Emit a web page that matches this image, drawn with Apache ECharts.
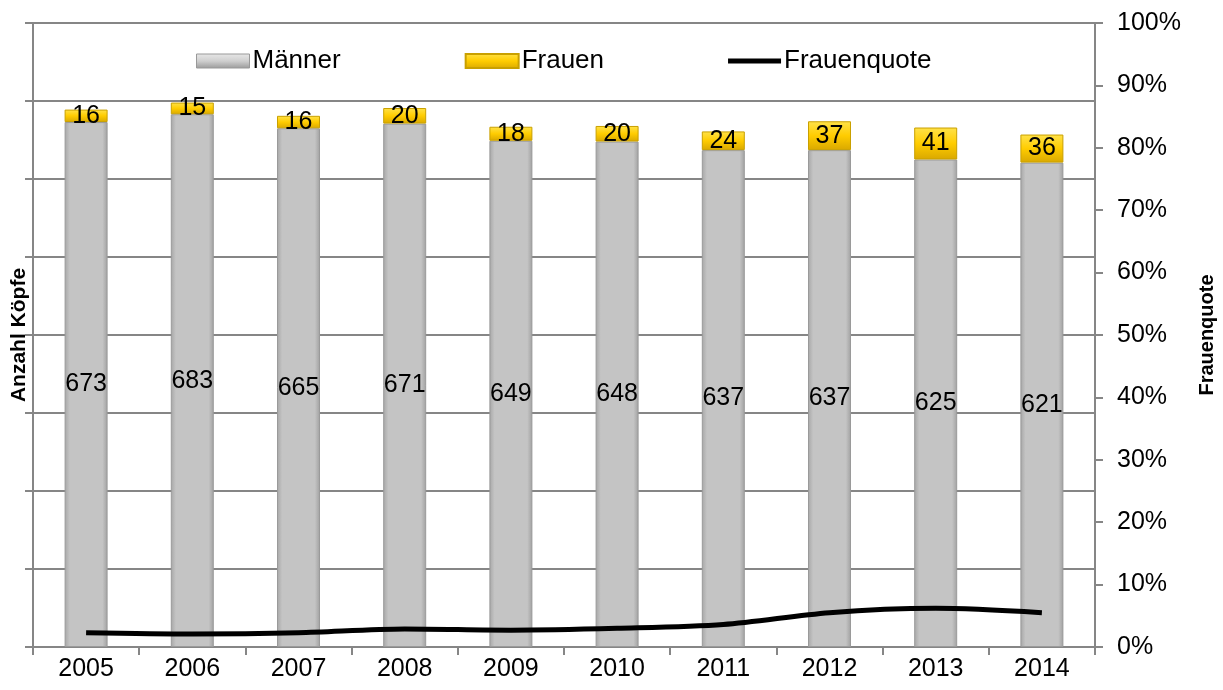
<!DOCTYPE html>
<html lang="de">
<head>
    <meta charset="UTF-8">
    <title>Frauenquote</title>
    <script src="https://cdn.jsdelivr.net/npm/echarts@6/dist/echarts.min.js"></script>
</head>
<body style="margin:0">
<div id="main" style="width:1223px;height:690px"></div>
<script type="text/javascript">
    var years = ['2005', '2006', '2007', '2008', '2009', '2010', '2011', '2012', '2013', '2014'];
    var maenner = [673, 683, 665, 671, 649, 648, 637, 637, 625, 621];
    var frauen = [16, 15, 16, 20, 18, 20, 24, 37, 41, 36];
    var quote = [2.3, 2.1, 2.3, 2.9, 2.7, 3.0, 3.6, 5.5, 6.2, 5.5];

    var font = 'Liberation Sans, Arial, sans-serif';
    var gridCol = '#868686';

    var grauFill = new echarts.graphic.LinearGradient(0, 0, 1, 0, [
        {offset: 0, color: '#a6a6a6'},
        {offset: 0.12, color: '#c4c4c4'},
        {offset: 0.88, color: '#c4c4c4'},
        {offset: 1, color: '#a0a0a0'}
    ]);
    var goldFill = new echarts.graphic.LinearGradient(0, 0, 0, 1, [
        {offset: 0, color: '#ffe24a'},
        {offset: 0.5, color: '#ffcc00'},
        {offset: 1, color: '#d9a800'}
    ]);
    var grauLegend = new echarts.graphic.LinearGradient(0, 0, 0, 1, [
        {offset: 0, color: '#e8e8e8'},
        {offset: 0.5, color: '#cfcfcf'},
        {offset: 1, color: '#9a9a9a'}
    ]);

    var myChart = echarts.init(document.getElementById('main'));
    var option = {
        animation: false,
        textStyle: {fontFamily: font},
        grid: {left: 33, right: 128, top: 23, bottom: 43, containLabel: false, outerBoundsMode: 'none'},
        legend: {
            top: 43,
            left: 191,
            itemGap: 124,
            itemWidth: 53,
            itemHeight: 14,
            textStyle: {fontSize: 26, color: '#000', fontFamily: font, padding: [0, 0, 0, -2]},
            data: [
                {name: 'Männer', icon: 'rect', itemStyle: {color: grauLegend, borderColor: '#999', borderWidth: 1}},
                {name: 'Frauen', icon: 'rect'},
                {name: 'Frauenquote', icon: 'path://M0,0 L100,0 L100,9 L0,9 Z', itemStyle: {color: '#000'}}
            ]
        },
        xAxis: {
            type: 'category',
            data: years,
            axisLine: {lineStyle: {color: gridCol, width: 2}},
            axisTick: {show: true, length: 8, lineStyle: {color: gridCol, width: 2}},
            axisLabel: {fontSize: 25, color: '#000', margin: 10, fontFamily: font}
        },
        yAxis: [{
            type: 'value',
            min: 0,
            max: 800,
            interval: 100,
            name: 'Anzahl Köpfe',
            nameLocation: 'middle',
            nameGap: 3,
            nameRotate: 90,
            nameTextStyle: {fontSize: 21, fontWeight: 'bold', color: '#000', fontFamily: font},
            axisLine: {show: true, lineStyle: {color: gridCol, width: 2}},
            axisTick: {show: true, length: 8, lineStyle: {color: gridCol, width: 2}},
            axisLabel: {show: false},
            splitLine: {show: true, lineStyle: {color: gridCol, width: 2}}
        }, {
            type: 'value',
            min: 0,
            max: 100,
            interval: 10,
            position: 'right',
            name: 'Frauenquote',
            nameLocation: 'middle',
            nameGap: 102,
            nameRotate: 90,
            nameTextStyle: {fontSize: 20, fontWeight: 'bold', color: '#000', fontFamily: font},
            axisLine: {show: true, lineStyle: {color: gridCol, width: 2}},
            axisTick: {show: true, length: 8, lineStyle: {color: gridCol, width: 2}},
            axisLabel: {
                color: '#000', margin: 22, align: 'left',
                formatter: function (v) { return '{p|' + v + '%}'; },
                rich: {p: {fontSize: 25, color: '#000', fontFamily: font, width: 72, align: 'left'}}
            },
            splitLine: {show: false}
        }],
        series: [{
            name: 'Männer',
            type: 'bar',
            stack: 'koepfe',
            barWidth: 43,
            data: maenner,
            itemStyle: {color: grauFill, borderColor: '#9a9a9a', borderWidth: 1},
            label: {show: true, position: 'inside', fontSize: 25, color: '#000', fontFamily: font}
        }, {
            name: 'Frauen',
            type: 'bar',
            stack: 'koepfe',
            barWidth: 43,
            data: frauen,
            itemStyle: {color: goldFill, borderColor: '#c9a000', borderWidth: 1},
            label: {show: true, position: 'inside', fontSize: 25, color: '#000', fontFamily: font}
        }, {
            name: 'Frauenquote',
            type: 'line',
            yAxisIndex: 1,
            data: quote,
            smooth: 0.3,
            symbol: 'none',
            lineStyle: {color: '#000', width: 5},
            itemStyle: {color: '#000'}
        }]
    };
    myChart.setOption(option);
</script>
</body>
</html>
